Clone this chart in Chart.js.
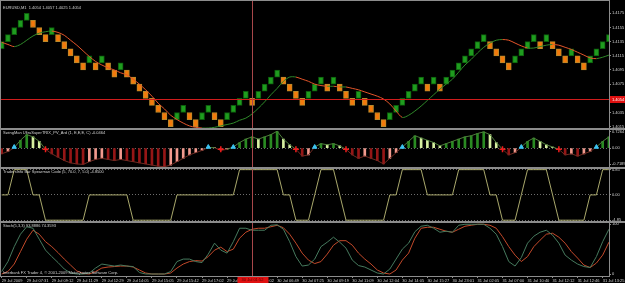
<!DOCTYPE html>
<html lang="en">
<head>
<meta charset="UTF-8">
<title>EURUSD,M1 renko</title>
<script src="https://cdn.jsdelivr.net/npm/chart.js"></script>
<style>
  html, body { margin: 0; padding: 0; background: #000; overflow: hidden; }
  #grafico { display: block; }
</style>
</head>
<body>
<canvas id="grafico" width="625" height="283"></canvas>
<script>
// renko bricks, 10 pips each: low of the brick and 1 = up brick / 0 = down brick
const brickSize = 0.0010;
const brickLow = [
  1.4125, 1.4135, 1.4145, 1.4155, 1.4165, 1.4155, 1.4145, 1.4135, 1.4145, 1.4135,
  1.4125, 1.4115, 1.4105, 1.4095, 1.4105, 1.4095, 1.4105, 1.4095, 1.4085, 1.4095,
  1.4085, 1.4075, 1.4065, 1.4055, 1.4045, 1.4035, 1.4025, 1.4015, 1.4025, 1.4035,
  1.4025, 1.4015, 1.4025, 1.4035, 1.4025, 1.4015, 1.4025, 1.4035, 1.4045, 1.4055,
  1.4045, 1.4055, 1.4065, 1.4075, 1.4085, 1.4075, 1.4065, 1.4055, 1.4045, 1.4055,
  1.4065, 1.4075, 1.4065, 1.4075, 1.4065, 1.4055, 1.4045, 1.4055, 1.4045, 1.4035,
  1.4025, 1.4015, 1.4025, 1.4035, 1.4045, 1.4055, 1.4065, 1.4075, 1.4065, 1.4075,
  1.4065, 1.4075, 1.4085, 1.4095, 1.4105, 1.4115, 1.4125, 1.4135, 1.4125, 1.4115,
  1.4105, 1.4095, 1.4105, 1.4115, 1.4125, 1.4135, 1.4125, 1.4135, 1.4125, 1.4115,
  1.4105, 1.4115, 1.4105, 1.4095, 1.4105, 1.4115, 1.4125, 1.4135
];
const brickUp = [
  1, 1, 1, 1, 1, 0, 0, 0, 1, 0,
  0, 0, 0, 0, 1, 0, 1, 0, 0, 1,
  0, 0, 0, 0, 0, 0, 0, 0, 1, 1,
  0, 0, 1, 1, 0, 0, 1, 1, 1, 1,
  0, 1, 1, 1, 1, 0, 0, 0, 0, 1,
  1, 1, 0, 1, 0, 0, 0, 1, 0, 0,
  0, 0, 1, 1, 1, 1, 1, 1, 0, 1,
  0, 1, 1, 1, 1, 1, 1, 1, 0, 0,
  0, 0, 1, 1, 1, 1, 0, 1, 0, 0,
  0, 1, 0, 0, 1, 1, 1, 1
];
const maLine = [
  1.4134, 1.4131, 1.4128, 1.4131, 1.4137, 1.4143, 1.4147, 1.4149, 1.4150, 1.4148,
  1.4144, 1.4137, 1.4130, 1.4122, 1.4114, 1.4107, 1.4102, 1.4098, 1.4095, 1.4091,
  1.4088, 1.4082, 1.4075, 1.4067, 1.4058, 1.4048, 1.4040, 1.4031, 1.4025, 1.4020,
  1.4016, 1.4014, 1.4013, 1.4013, 1.4014, 1.4016, 1.4018, 1.4020, 1.4024, 1.4027,
  1.4033, 1.4041, 1.4050, 1.4060, 1.4069, 1.4079, 1.4085, 1.4085, 1.4082, 1.4079,
  1.4075, 1.4073, 1.4072, 1.4072, 1.4071, 1.4071, 1.4069, 1.4067, 1.4064, 1.4061,
  1.4058, 1.4054, 1.4047, 1.4037, 1.4028, 1.4031, 1.4037, 1.4044, 1.4052, 1.4060,
  1.4068, 1.4075, 1.4082, 1.4092, 1.4102, 1.4110, 1.4119, 1.4127, 1.4133, 1.4137,
  1.4138, 1.4137, 1.4133, 1.4129, 1.4126, 1.4126, 1.4128, 1.4130, 1.4131, 1.4130,
  1.4127, 1.4124, 1.4120, 1.4116, 1.4112, 1.4111, 1.4113, 1.4116
];

// SwingMan UltraSuperTRIX histogram and its arrows
const trixHist = [
  -0.25, -0.15, 0.02, 0.35, 0.6, 0.5, 0.3, -0.05, -0.25, -0.4,
  -0.55, -0.65, -0.7, -0.72, -0.6, -0.5, -0.45, -0.5, -0.55, -0.5,
  -0.55, -0.6, -0.65, -0.7, -0.75, -0.8, -0.82, -0.75, -0.6, -0.45,
  -0.3, -0.2, -0.1, 0.03, 0.02, -0.1, -0.05, 0.05, 0.25, 0.4,
  0.5, 0.4, 0.5, 0.6, 0.75, 0.4, 0.15, -0.05, -0.35, -0.3,
  0.05, 0.2, 0.15, 0.2, 0.1, -0.05, -0.3, -0.45, -0.35, -0.45,
  -0.55, -0.7, -0.45, -0.2, 0.05, 0.3, 0.55, 0.45, 0.35, 0.25,
  0.1, 0.2, 0.3, 0.4, 0.5, 0.55, 0.65, 0.72, 0.6, 0.25,
  -0.05, -0.3, -0.2, 0.05, 0.3, 0.45, 0.3, 0.15, 0.05, -0.05,
  -0.3, -0.25, -0.35, -0.25, -0.15, 0.05, 0.3, 0.5
];
const buySignals = [2, 33, 37, 50, 64, 83, 95];
const sellSignals = [7, 35, 47, 55, 80, 89];

// Spearman code
const spearman = [
  0, 0, 4.85, 4.85, 4.85, 0, 0, -4.85, -4.85, -4.85,
  -4.85, -4.85, -4.85, -4.85, 0, 0, 0, 0, 0, 0,
  0, -4.85, -4.85, -4.85, -4.85, -4.85, -4.85, -4.85, 0, 0,
  0, 0, 0, 0, 0, 0, 0, 0, 4.85, 4.85,
  4.85, 4.85, 4.85, 4.85, 4.85, 0, 0, -4.85, -4.85, -4.85,
  0, 4.85, 4.85, 4.85, 0, -4.85, -4.85, -4.85, -4.85, -4.85,
  -4.85, -4.85, 0, 0, 4.85, 4.85, 4.85, 4.85, 0, 0,
  0, 0, 0, 4.85, 4.85, 4.85, 4.85, 4.85, 0, 0,
  -4.85, -4.85, -4.85, 0, 4.85, 4.85, 4.85, 4.85, 0, -4.85,
  -4.85, -4.85, -4.85, -4.85, 0, 0, 4.85, 4.85
];

// Stoch(5,3,3)
const stochMain = [
  5, 25, 55, 80, 95, 92, 70, 48, 35, 23,
  10, 2, 0, 0, 2, 12, 20, 18, 16, 18,
  16, 15, 3, 0, 0, 0, 0, 5, 25, 30,
  30, 25, 23, 40, 62, 48, 42, 65, 92, 92,
  88, 88, 88, 98, 99, 90, 65, 35, 16, 18,
  30, 55, 64, 74, 64, 52, 28, 17, 14, 8,
  2, 0, 10, 30, 50, 62, 85, 96, 98, 92,
  84, 86, 84, 98, 100, 100, 100, 100, 92, 80,
  55, 25, 16, 33, 62, 76, 84, 88, 78, 62,
  38, 28, 20, 15, 13, 35, 65, 90
];
const stochSignal = [
  0, 5, 20, 45, 70, 88, 80, 65, 55, 43,
  30, 18, 6, 1, 0, 5, 12, 14, 15, 16,
  16, 14, 8, 2, 0, 0, 0, 2, 12, 20,
  25, 27, 26, 35, 48, 54, 45, 50, 72, 84,
  90, 92, 92, 95, 98, 93, 80, 62, 42, 28,
  21, 25, 40, 58, 67, 67, 58, 42, 30, 20,
  8, 2, 0, 8, 28, 42, 72, 92, 94, 94,
  90, 86, 84, 90, 96, 98, 100, 100, 98, 92,
  75, 55, 38, 25, 35, 55, 68, 80, 82, 74,
  62, 45, 32, 18, 13, 22, 38, 64
];

// time axis, one label every 4 bricks
const timeLabelEvery = 4;
const timeLabels = [
  '29 Jul 2009', '29 Jul 07:31', '29 Jul 09:12', '29 Jul 11:29', '29 Jul 12:29',
  '29 Jul 14:05', '29 Jul 15:05', '29 Jul 15:42', '29 Jul 17:02', '29 Jul 20:52',
  '30 Jul 03:02', '30 Jul 06:49', '30 Jul 07:25', '30 Jul 09:19', '30 Jul 11:09',
  '30 Jul 12:04', '30 Jul 14:05', '30 Jul 15:27', '30 Jul 23:01', '31 Jul 02:05',
  '31 Jul 07:00', '31 Jul 10:40', '31 Jul 12:12', '31 Jul 12:46', '31 Jul 13:25'
];
const priceTicks = [1.4015, 1.4035, 1.4075, 1.4095, 1.4115, 1.4135, 1.4155, 1.4175];
const trixTicks = [-0.7189, 0, 0.7264];
const spearmanTicks = [-4.85, 0, 4.85];
const stochTicks = [0, 100];

const currentPrice = 1.4054;
const crossBar = 40;
const crossTime = '30 Jul 01:52';
const panelTitles = [
  'EURUSD,M1  1.4054 1.4057 1.4025 1.4054',
  'SwingMan UltraSuperTRIX_PV_Ard (1, E,E,E, C) -0.0464',
  'TradersInfo Bar Spearman Code (5, 70.0, 7, 5.0) -4.8500',
  'Stoch(5,3,3) 93.8886 74.3593'
];
const copyright = 'Interbank FX Trader 4, \u00a9 2001-2009 MetaQuotes Software Corp.';

const tinyFont = { family: 'Liberation Sans', size: 4 };
const textColor = '#d2d2d2';
const frameColor = '#8c8c8c';

function xy(arr) {
  return arr.map((v, i) => ({ x: i, y: v }));
}

function rightAxis(weight, min, max, tickValues, fmt, gridColor) {
  return {
    type: 'linear',
    position: 'right',
    stack: 'windows',
    stackWeight: weight,
    min: min,
    max: max,
    afterFit: s => { s.width = 16; },
    afterBuildTicks: s => { s.ticks = tickValues.map(v => ({ value: v })); },
    ticks: { color: textColor, font: tinyFont, padding: 1, callback: fmt },
    grid: {
      drawOnChartArea: !!gridColor,
      color: gridColor || 'transparent',
      borderDash: [1, 2],
      tickLength: 2,
      tickColor: frameColor
    },
    border: { display: false, dash: [1, 2] }
  };
}

function histColor(ctx) {
  const i = ctx.dataIndex;
  const v = trixHist[i];
  const prev = i > 0 ? trixHist[i - 1] : v;
  if (v >= 0) return v >= prev ? '#2a8a22' : '#d6efa0';
  return v <= prev ? '#961616' : '#f29a8e';
}

// frames, titles, bid line and crosshair in the MT4 way
const terminalLook = {
  id: 'terminalLook',
  afterDraw(chart) {
    const ctx = chart.ctx;
    const a = chart.chartArea;
    const ids = ['yMain', 'yTrix', 'ySpear', 'yStoch'];
    ctx.save();

    // bid line
    const py = Math.round(chart.scales.yMain.getPixelForValue(currentPrice)) + 0.5;
    ctx.strokeStyle = '#d01c1c';
    ctx.lineWidth = 1;
    ctx.beginPath();
    ctx.moveTo(a.left, py);
    ctx.lineTo(a.right, py);
    ctx.stroke();

    // crosshair
    const cx = Math.round(chart.scales.x.getPixelForValue(crossBar)) + 0.5;
    ctx.strokeStyle = '#a8474a';
    ctx.beginPath();
    ctx.moveTo(cx, 1);
    ctx.lineTo(cx, a.bottom);
    ctx.stroke();

    // window frames
    ctx.strokeStyle = frameColor;
    ctx.lineWidth = 1;
    ctx.strokeRect(a.left + 0.5, 0.5, a.right - a.left, a.bottom);
    ids.forEach((id, k) => {
      if (k === 0) return;
      const s = chart.scales[id];
      ctx.fillStyle = frameColor;
      ctx.fillRect(0, Math.round(s.top) - 1, chart.width, 2);
    });

    // titles
    ctx.font = tinyFont.size + 'px ' + tinyFont.family;
    ctx.fillStyle = textColor;
    ctx.textBaseline = 'top';
    ctx.textAlign = 'left';
    ids.forEach((id, k) => {
      ctx.fillText(panelTitles[k], a.left + 3, chart.scales[id].top + 2);
    });
    ctx.textBaseline = 'bottom';
    ctx.fillText(copyright, a.left + 3, a.bottom - 1);

    // price label
    ctx.fillStyle = '#e01010';
    ctx.fillRect(a.right + 1, py - 3.5, chart.width - a.right, 7);
    ctx.fillStyle = '#ffffff';
    ctx.textBaseline = 'middle';
    ctx.fillText(currentPrice.toFixed(4), a.right + 3, py);

    // time label of the crosshair
    ctx.fillStyle = '#e01010';
    ctx.fillRect(cx - 15, a.bottom + 1, 31, chart.height - a.bottom - 1);
    ctx.fillStyle = '#5a0000';
    ctx.textAlign = 'center';
    ctx.fillText(crossTime, cx, a.bottom + 4);
    ctx.restore();
  }
};

new Chart(document.getElementById('grafico'), {
  type: 'bar',
  data: {
    datasets: [
      {
        type: 'line',
        yAxisID: 'yMain',
        data: xy(maLine),
        borderWidth: 1,
        pointRadius: 0,
        tension: 0.3,
        segment: {
          borderColor: c => c.p1.parsed.y >= c.p0.parsed.y ? '#2f8a2a' : '#e4552a'
        }
      },
      {
        yAxisID: 'yMain',
        data: brickLow.map((lo, i) => ({ x: i, y: [lo, lo + brickSize] })),
        backgroundColor: c => brickUp[c.dataIndex] ? '#1f9c1f' : '#f27a0c',
        borderColor: c => brickUp[c.dataIndex] ? '#0c5e0c' : '#b78a2c',
        borderWidth: 1,
        borderSkipped: false,
        barThickness: 5,
        grouped: false
      },
      {
        type: 'line',
        yAxisID: 'yTrix',
        data: buySignals.map(i => ({ x: i, y: 0.05 })),
        showLine: false,
        pointStyle: 'triangle',
        pointRadius: 2.5,
        backgroundColor: '#3cc4f2',
        borderColor: '#3cc4f2',
        borderWidth: 1
      },
      {
        type: 'line',
        yAxisID: 'yTrix',
        data: sellSignals.map(i => ({ x: i, y: -0.05 })),
        showLine: false,
        pointStyle: 'cross',
        pointRadius: 3,
        borderColor: '#f01c1c',
        borderWidth: 1.5
      },
      {
        type: 'line',
        yAxisID: 'yTrix',
        data: xy(trixHist),
        borderWidth: 1,
        pointRadius: 0,
        segment: {
          borderColor: c => (c.p0.parsed.y + c.p1.parsed.y) >= 0 ? '#4d7d3a' : '#6e2a22'
        }
      },
      {
        yAxisID: 'yTrix',
        data: xy(trixHist),
        backgroundColor: histColor,
        borderWidth: 0,
        barThickness: 2,
        grouped: false
      },
      {
        type: 'line',
        yAxisID: 'ySpear',
        data: xy(spearman),
        borderColor: '#a9a86c',
        borderWidth: 1,
        pointRadius: 0
      },
      {
        type: 'line',
        yAxisID: 'yStoch',
        data: xy(stochMain),
        borderColor: '#467a5e',
        borderWidth: 1,
        pointRadius: 0
      },
      {
        type: 'line',
        yAxisID: 'yStoch',
        data: xy(stochSignal),
        borderColor: '#c2492a',
        borderWidth: 1,
        pointRadius: 0
      }
    ]
  },
  options: {
    responsive: false,
    devicePixelRatio: 1,
    animation: false,
    layout: { autoPadding: false, padding: { top: 1, left: 0, right: 0, bottom: 0 } },
    plugins: { legend: { display: false }, tooltip: { enabled: false } },
    scales: {
      x: {
        type: 'linear',
        min: -0.27,
        max: 97.01,
        offset: false,
        afterFit: s => { s.height = 7; s.paddingLeft = 0; s.paddingRight = 0; },
        afterBuildTicks: s => { s.ticks = timeLabels.map((t, k) => ({ value: k * timeLabelEvery })); },
        ticks: {
          autoSkip: false,
          maxRotation: 0,
          align: 'start',
          padding: 0,
          color: textColor,
          font: tinyFont,
          callback: (v, k) => timeLabels[k]
        },
        grid: { drawOnChartArea: false, offset: false, tickLength: 2, tickColor: frameColor },
        border: { color: frameColor }
      },
      yMain: rightAxis(126, 1.4012, 1.4189, priceTicks, v => v.toFixed(4)),
      yTrix: rightAxis(39, -0.86, 0.86, trixTicks, v => v === 0 ? '0.00' : v.toFixed(4),
        c => c.tick && c.tick.value === 0 ? '#6a6a6a' : 'transparent'),
      ySpear: rightAxis(55, -5.25, 5.25, spearmanTicks, v => v.toFixed(2), '#6e6e6e'),
      yStoch: rightAxis(54, -4, 104, stochTicks, v => String(v))
    }
  },
  plugins: [terminalLook]
});
</script>
</body>
</html>
